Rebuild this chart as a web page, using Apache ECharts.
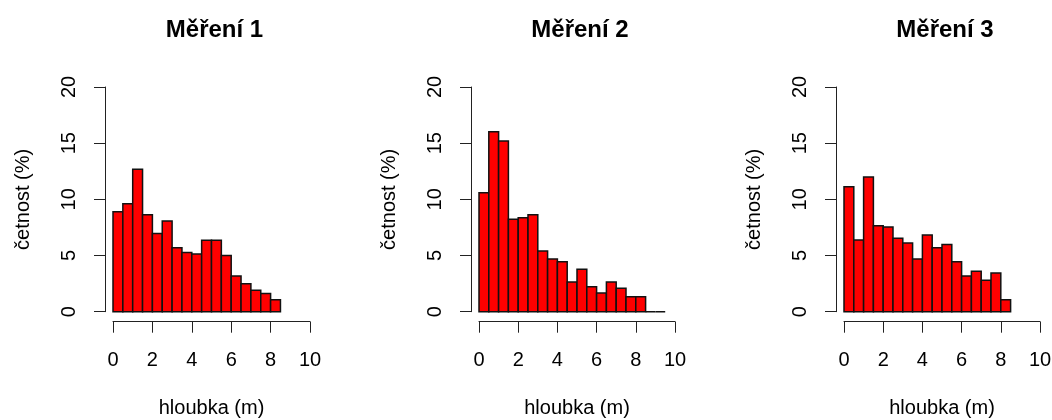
<!DOCTYPE html>
<html>
<head>
<meta charset="utf-8">
<script src="https://cdn.jsdelivr.net/npm/echarts@6/dist/echarts.min.js"></script>
<style>
  html, body { margin: 0; padding: 0; background: #fff; }
  #chart { width: 1052px; height: 420px; }
</style>
</head>
<body>
<div id="chart"></div>
<script>
// Histogram of depths (m), share of observations per 0.5 m bin (%)
const titles = ['Měření 1', 'Měření 2', 'Měření 3'];
const binStart = 0;
const binWidth = 0.5;
const mereni1 = [8.90, 9.61, 12.67, 8.64, 6.97, 8.07, 5.70, 5.28, 5.13, 6.35, 6.35, 5.01, 3.18, 2.49, 1.90, 1.63, 1.07];
const mereni2 = [10.59, 16.02, 15.19, 8.22, 8.37, 8.64, 5.40, 4.69, 4.45, 2.64, 3.77, 2.23, 1.66, 2.64, 2.08, 1.34, 1.34, 0, 0];
const mereni3 = [11.13, 6.38, 11.99, 7.66, 7.54, 6.53, 6.11, 4.69, 6.82, 5.70, 5.99, 4.45, 3.18, 3.59, 2.79, 3.44, 1.07];
const xTicks = [0, 2, 4, 6, 8, 10];
const yTicks = [0, 5, 10, 15, 20];

const seriesValues = [mereni1, mereni2, mereni3];
const panelLeft = [113, 479, 844];
const panelWidth = [197, 196, 196];
const panelTop = 87;
const panelHeight = 224.7;
const font = "'Liberation Sans', Arial, sans-serif";
const axisColor = '#222';

const chart = echarts.init(document.getElementById('chart'), null, { renderer: 'canvas' });

const grids = [], xAxes = [], yAxes = [], series = [], titleList = [];
seriesValues.forEach((vals, i) => {
  grids.push({
    left: panelLeft[i], top: panelTop, width: panelWidth[i], height: panelHeight,
    containLabel: false, outerBoundsMode: 'none'
  });
  titleList.push({
    text: titles[i],
    left: panelLeft[i] + panelWidth[i] / 2 - 2,
    top: 13,
    textAlign: 'center',
    textStyle: { fontFamily: font, fontSize: 24, fontWeight: 'bold', color: '#000' }
  });
  xAxes.push({
    type: 'value', gridIndex: i,
    min: xTicks[0], max: xTicks[xTicks.length - 1], interval: 2,
    position: 'bottom', offset: 10,
    name: 'hloubka (m)', nameLocation: 'middle', nameGap: 77,
    nameTextStyle: { fontFamily: font, fontSize: 20, color: '#000' },
    axisLine: { show: true, onZero: false, lineStyle: { color: axisColor, width: 1 } },
    axisTick: { show: true, inside: false, length: 11, lineStyle: { color: axisColor } },
    axisLabel: { fontFamily: font, fontSize: 20, color: '#000', margin: 29, showMinLabel: true, showMaxLabel: true },
    splitLine: { show: false }
  });
  yAxes.push({
    type: 'value', gridIndex: i,
    min: yTicks[0], max: yTicks[yTicks.length - 1], interval: 5,
    position: 'left', offset: 8,
    name: 'četnost (%)', nameLocation: 'middle', nameGap: 72, nameRotate: 90,
    nameTextStyle: { fontFamily: font, fontSize: 20, color: '#000' },
    axisLine: { show: true, onZero: false, lineStyle: { color: axisColor, width: 1 } },
    axisTick: { show: true, inside: false, length: 11, lineStyle: { color: axisColor } },
    axisLabel: { fontFamily: font, fontSize: 20, color: '#000', rotate: 90, margin: 26 },
    splitLine: { show: false }
  });
  series.push({
    type: 'custom', xAxisIndex: i, yAxisIndex: i,
    data: vals.map((v, k) => [binStart + k * binWidth, binStart + (k + 1) * binWidth, v]),
    encode: { x: [0, 1], y: 2 },
    renderItem: function (params, api) {
      const p0 = api.coord([api.value(0), api.value(2)]);
      const p1 = api.coord([api.value(1), 0]);
      return {
        type: 'rect',
        shape: { x: p0[0], y: p0[1], width: p1[0] - p0[0], height: p1[1] - p0[1] },
        style: { fill: '#ff0000', stroke: '#111', lineWidth: 1.5 }
      };
    }
  });
});

chart.setOption({
  animation: false,
  backgroundColor: '#fff',
  title: titleList,
  grid: grids,
  xAxis: xAxes,
  yAxis: yAxes,
  series: series
});
</script>
</body>
</html>
